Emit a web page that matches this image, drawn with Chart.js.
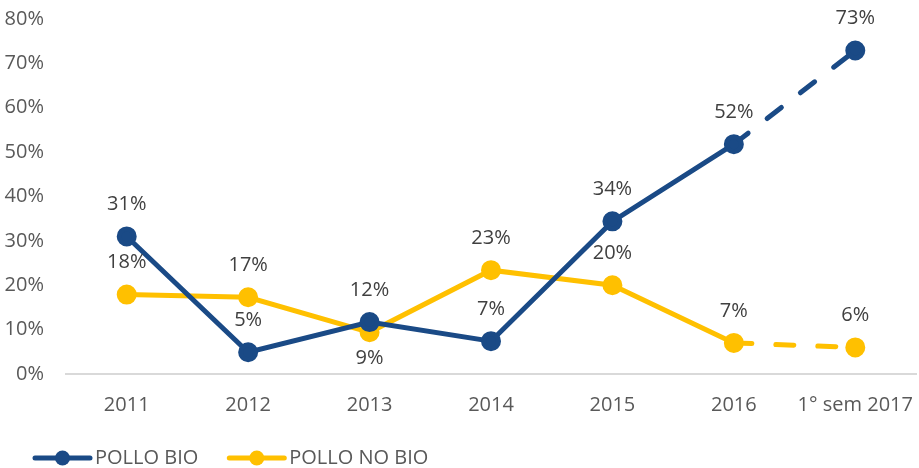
<!DOCTYPE html>
<html>
<head>
<meta charset="utf-8">
<script src="https://cdn.jsdelivr.net/npm/chart.js@4/dist/chart.umd.min.js"></script>
<style>
  body { margin: 0; background: #fff; overflow: hidden; }
  canvas { display: block; }
</style>
</head>
<body>
<canvas id="chart" width="919" height="468"></canvas>
<script>
const periodi = ["2011", "2012", "2013", "2014", "2015", "2016", "1° sem 2017"];
const polloBio = [31.0, 4.9, 11.7, 7.4, 34.4, 51.8, 72.9];
const polloNoBio = [17.9, 17.3, 9.4, 23.4, 20.0, 7.0, 6.0];
const yTicks = [0, 10, 20, 30, 40, 50, 60, 70, 80];

const BLUE = "#1a4a86";
const YELLOW = "#ffc000";
const AXIS_GREY = "#595959";
const FONT = "'Open Sans', sans-serif";

// data labels above the points (the 9% of 2013 "no bio" sits below)
const labelsBelow = { 1: [2] };
const dataLabels = {
  id: "dataLabels",
  afterDatasetsDraw(chart) {
    const ctx = chart.ctx;
    ctx.save();
    ctx.font = "20px " + FONT;
    ctx.fillStyle = "#404040";
    ctx.textAlign = "center";
    ctx.textBaseline = "middle";
    chart.data.datasets.forEach((ds, i) => {
      chart.getDatasetMeta(i).data.forEach((pt, j) => {
        const below = (labelsBelow[i] || []).includes(j);
        ctx.fillText(Math.round(ds.data[j]) + "%", pt.x, below ? pt.y + 26 : pt.y - 32);
      });
    });
    ctx.restore();
  }
};

// legend at the bottom: line + dot, then the series name
const lineLegend = {
  id: "lineLegend",
  afterDraw(chart) {
    const ctx = chart.ctx;
    ctx.save();
    ctx.font = "20px " + FONT;
    ctx.textBaseline = "middle";
    const y = 458;
    let x = 35;
    chart.data.datasets.forEach(ds => {
      ctx.strokeStyle = ds.borderColor;
      ctx.fillStyle = ds.borderColor;
      ctx.lineWidth = 5;
      ctx.lineCap = "round";
      ctx.beginPath(); ctx.moveTo(x, y); ctx.lineTo(x + 55, y); ctx.stroke();
      ctx.beginPath(); ctx.arc(x + 27.5, y, 7.5, 0, Math.PI * 2); ctx.fill();
      ctx.fillStyle = AXIS_GREY;
      ctx.textAlign = "left";
      ctx.fillText(ds.label, x + 60, y);
      x += 60 + ctx.measureText(ds.label).width + 31;
    });
    ctx.restore();
  }
};

const dashLast = ctx => ctx.p0DataIndex === periodi.length - 2 ? [18, 24] : undefined;

new Chart(document.getElementById("chart"), {
  type: "line",
  data: {
    labels: periodi,
    datasets: [
      { label: "POLLO BIO", data: polloBio, borderColor: BLUE, backgroundColor: BLUE,
        borderWidth: 5, pointRadius: 7.5, pointHoverRadius: 7.5, borderCapStyle: "round",
        segment: { borderDash: dashLast } },
      { label: "POLLO NO BIO", data: polloNoBio, borderColor: YELLOW, backgroundColor: YELLOW,
        borderWidth: 5, pointRadius: 7.5, pointHoverRadius: 7.5, borderCapStyle: "round",
        segment: { borderDash: dashLast } }
    ]
  },
  options: {
    responsive: false,
    animation: false,
    layout: { autoPadding: false, padding: { top: 19, right: 3, left: 0, bottom: 50 } },
    plugins: {
      tooltip: { enabled: false },
      legend: { display: false }
    },
    scales: {
      x: {
        offset: true,
        afterFit(scale) { scale.height = 44; scale.paddingLeft = 0; scale.paddingRight = 0; },
        grid: { display: false, drawTicks: false },
        border: { color: "#d9d9d9", width: 2 },
        ticks: { color: AXIS_GREY, font: { family: FONT, size: 20 }, padding: 19, maxRotation: 0 }
      },
      y: {
        min: 0, max: 80,
        afterFit(scale) { scale.width = 66; scale.paddingTop = 0; scale.paddingBottom = 0; },
        afterBuildTicks(scale) { scale.ticks = yTicks.map(v => ({ value: v })); },
        grid: { display: false, drawTicks: false },
        border: { display: false },
        ticks: { color: AXIS_GREY, font: { family: FONT, size: 20 }, padding: 22,
                 callback: v => v + "%" }
      }
    }
  },
  plugins: [dataLabels, lineLegend]
});
</script>
</body>
</html>
